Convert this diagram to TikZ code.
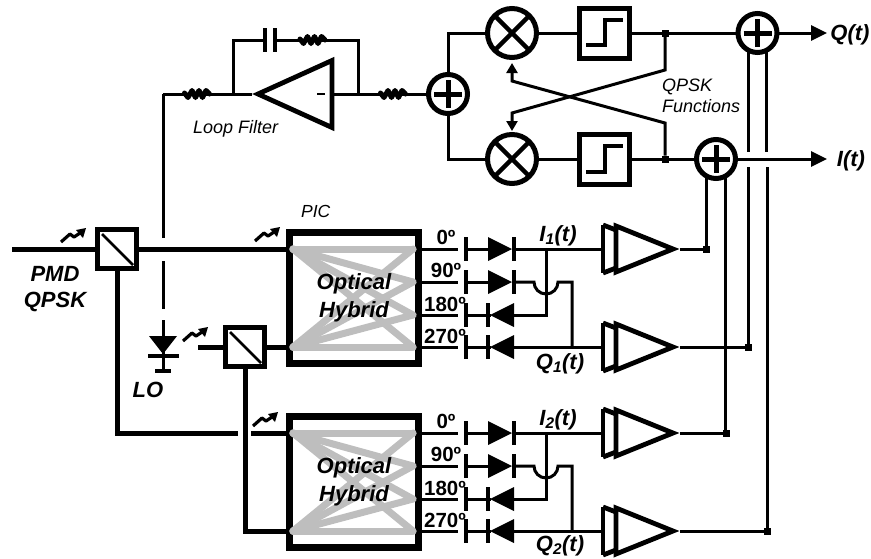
\documentclass[tikz,border=0pt]{standalone}
\usepackage{fontspec}
\setmainfont{Liberation Sans}
\usetikzlibrary{arrows.meta,calc}
\definecolor{hybgray}{RGB}{190,190,190}
\tikzset{
  x=1pt,y=-1pt,
  wire/.style={line width=3pt,line cap=butt},
  fiber/.style={line width=5pt},
  lab/.style={anchor=base,inner sep=0pt,font=\fontsize{22}{22}\selectfont\bfseries\itshape},
  portlab/.style={anchor=base,inner sep=0pt,font=\fontsize{20.5}{20.5}\selectfont\bfseries},
  note/.style={anchor=base west,inner sep=0pt,font=\fontsize{18}{18}\selectfont\itshape},
  splitbox/.style={draw,line width=5pt,fill=white,minimum size=39pt,inner sep=0pt,outer sep=0pt},
  hybbox/.style={draw,line width=7pt,minimum width=129pt,minimum height=131pt,inner sep=0pt,outer sep=0pt},
  compbox/.style={draw,line width=5pt,minimum size=50pt,inner sep=0pt,outer sep=0pt},
  addcirc/.style={draw,circle,line width=5pt,minimum size=39pt,inner sep=0pt,outer sep=0pt},
  mixcirc/.style={draw,circle,line width=5pt,minimum size=49pt,inner sep=0pt,outer sep=0pt},
  jdot/.style={fill=black,minimum size=7pt,inner sep=0pt,outer sep=0pt},
  bigtip/.style={-{Triangle[length=16pt,width=15pt]}},
  smalltip/.style={-{Triangle[length=10pt,width=11pt]}},
  amp/.style={line width=4.8pt,miter limit=20},
  tunearrow/.pic={
    \draw[line width=3.2pt,line join=round] (0,0) -- (9,-8) -- (13,-5) -- (19,-9);
    \fill (25,-14) -- (15,-12) -- (22,-4) -- cycle;
  },
  resist/.pic={
    \draw[line width=5pt,line join=round,line cap=round] (-12.5,-1) -- (-9,3.5) -- (-5,-3.5) -- (-1.5,3.5) -- (2,-3.5) -- (5.5,3.5) -- (9,-3.5) -- (12.5,0);
  },
  fdiode/.pic={
    \fill (-2,-12) rectangle (2,12);
    \draw[wire] (0,0) -- (25,0);
    \fill (22,-12) -- (46,0) -- (22,12) -- cycle;
    \fill (46,-12) rectangle (50,12);
  },
  rdiode/.pic={
    \fill (-2,-12) rectangle (2,12);
    \draw[wire] (0,0) -- (25,0);
    \fill (20,-12) rectangle (24,12);
    \fill (48,-12) -- (24,0) -- (48,12) -- cycle;
  }
}
\begin{document}
\begin{tikzpicture}
\useasboundingbox (0,0) rectangle (871,558);

% splitters and hybrids
\node[splitbox] (s1) at (117,249) {};
\node[splitbox] (s2) at (245,347) {};
\node[hybbox] (hy1) at (354,298) {};
\node[hybbox] (hy2) at (354,482) {};

% fibers
\coordinate (inp) at (12,249);
\draw[fiber] (inp) -- (s1.west);
\draw[fiber] (s1.east) -- (s1.east -| hy1.west);
\draw[fiber] (s2.east) -- (s2.east -| hy1.west);
\coordinate (s2l) at (198,347);
\draw[fiber] (s2l) -- (s2.west);
\coordinate (gl) at (238,433);
\coordinate (gr) at (251,433);
\coordinate (corn1) at (117,433);
\coordinate (corn2) at (245,531);
\draw[fiber] (s1.south) -- (corn1) -- (gl);
\draw[fiber] (gr) -- (gr -| hy2.west);
\draw[fiber] (s2.south) -- (corn2) -- (corn2 -| hy2.west);
\draw[line width=2.6pt] (102,234) -- (133,265);
\draw[line width=2.6pt] (230,332) -- (261,363);
\pic at (61,242) {tunearrow};
\pic at (255,241) {tunearrow};
\pic at (183,341) {tunearrow};
\pic at (253,426) {tunearrow};

% hybrids, detectors, amplifiers
\foreach \h/\dy/\n/\qy in {1/0/1/369,2/184/2/367}{
  \coordinate (a\h) at (293,249+\dy);
  \coordinate (b\h) at (293,347+\dy);
  \coordinate (r\h1) at (413,249+\dy);
  \coordinate (r\h2) at (413,282+\dy);
  \coordinate (r\h3) at (413,315+\dy);
  \coordinate (r\h4) at (413,347+\dy);
  \foreach \k in {1,2,3,4}{
    \draw[hybgray,line width=7pt,line cap=round] (a\h) -- (r\h\k);
    \draw[hybgray,line width=7pt,line cap=round] (b\h) -- (r\h\k);
  }
  \node[lab] (opt\h) at (354,289+\dy) {Optical};
  \node[lab] (hyb\h) at (354,317+\dy) {Hybrid};
  % port stubs
  \foreach \yy in {249,282,315,347}{
    \draw[wire] (422,\yy+\dy) -- (458,\yy+\dy);
  }
  \node[portlab] (l0\h) at (446,244+\dy) {0º};
  \node[portlab] (l90\h) at (446,277+\dy) {90º};
  \node[portlab] (l180\h) at (445,311+\dy) {180º};
  \node[portlab] (l270\h) at (445,343+\dy) {270º};
  \pic at (466,249+\dy) {fdiode};
  \pic at (466,282+\dy) {fdiode};
  \pic at (466,315+\dy) {rdiode};
  \pic at (466,347+\dy) {rdiode};
  % diode outputs
  \coordinate (j\h) at (546,249+\dy);
  \coordinate (ampi\h) at (603,249+\dy);
  \coordinate (ampq\h) at (603,347+\dy);
  \draw[wire] (514,249+\dy) -- (ampi\h);
  \draw[wire] (j\h) -- (546,315+\dy) -- (514,315+\dy);
  \draw[wire] (514,282+\dy) -- (534,282+\dy) arc[start angle=180,end angle=360,x radius=12pt,y radius=12pt] -- (572,282+\dy) -- (572,347+\dy);
  \draw[wire] (514,347+\dy) -- (ampq\h);
  \node[lab] (ilab\h) at (558,241+\dy) {I\textsubscript{\n}(t)};
  \node[lab] (qlab\h) at (560,\qy+\dy) {Q\textsubscript{\n}(t)};
  % amplifiers
  \foreach \yy in {249,347}{
    \draw[amp] (603,\yy+\dy-24) -- (616,\yy+\dy-19);
    \draw[amp] (603,\yy+\dy+24) -- (616,\yy+\dy+19);
    \draw[amp] (603,\yy+\dy-24) -- (603,\yy+\dy+24);
    \draw[amp] (616,\yy+\dy-23) -- (673,\yy+\dy) -- (616,\yy+\dy+23) -- cycle;
  }
}

% output junctions
\node[jdot] (d1) at (706,249) {};
\node[jdot] (d2) at (748,347) {};
\node[jdot] (d3) at (726,433) {};
\node[jdot] (d4) at (767,531) {};
\coordinate (o1) at (680,249);
\coordinate (o2) at (680,347);
\coordinate (o3) at (680,433);
\coordinate (o4) at (680,531);
\draw[wire] (o1) -- (d1);
\draw[wire] (o2) -- (d2);
\draw[wire] (o3) -- (d3);
\draw[wire] (o4) -- (d4);

% adders
\node[addcirc] (ai) at (716,159) {};
\node[addcirc] (aq) at (757.5,33) {};
\node[addcirc] (al) at (448,94) {};
\foreach \c in {ai,aq,al}{
  \draw[line width=5pt] ($(\c.center)+(-14,0)$) -- ($(\c.center)+(14,0)$);
  \draw[line width=5pt] ($(\c.center)+(0,-14)$) -- ($(\c.center)+(0,14)$);
}
\coordinate (gt) at (0,152);
\coordinate (gb) at (0,167);
\draw[wire] (ai.-120) -- (d1.north -| ai.-120);
\draw[wire] (ai.-60) -- (d3.north -| ai.-60);
\draw[wire] (aq.-118) -- (aq.-118 |- gt);
\draw[wire] (aq.-62) -- (aq.-62 |- gt);
\draw[wire] (d2.north |- gb) -- (d2.north);
\draw[wire] (d4.north |- gb) -- (d4.north);

% outputs
\node[lab] (qout) at (850,40) {Q(t)};
\node[lab] (iout) at (851,166) {I(t)};
\coordinate (qtip) at (827,33);
\coordinate (itip) at (827,159);
\draw[wire,bigtip] (aq.east) -- (qtip);
\draw[wire,bigtip] (ai.east) -- (itip);

% mixers and comparators
\node[mixcirc] (mq) at (512,33) {};
\node[mixcirc] (mi) at (512,159) {};
\foreach \c in {mq,mi}{
  \draw[line width=4.5pt] (\c.45) -- (\c.225);
  \draw[line width=4.5pt] (\c.135) -- (\c.315);
}
\node[compbox] (cq) at (604.5,33) {};
\node[compbox] (ci) at (604.5,159) {};
\draw[line width=4.5pt] (586,45) -- (605,45) -- (605,20) -- (623,20);
\draw[line width=4.5pt] (586,172) -- (605,172) -- (605,146) -- (623,146);
\node[jdot] (dq) at (665,33) {};
\node[jdot] (di) at (665,159) {};
\coordinate (lq) at (448,33);
\coordinate (li) at (448,159);
\draw[wire] (al.north) -- (lq) -- (mq.west);
\draw[wire] (al.south) -- (li) -- (mi.west);
\draw[wire] (mq.east) -- (cq.west);
\draw[wire] (mi.east) -- (ci.west);
\draw[wire] (cq.east) -- (aq.west);
\draw[wire] (ci.east) -- (ai.west);
\coordinate (xq1) at (665,70);
\coordinate (xq2) at (512,113);
\coordinate (xi1) at (665,123);
\coordinate (xi2) at (512,81);
\coordinate (tipq) at (512,131);
\coordinate (tipi) at (512,63);
\draw[wire,smalltip] (dq.south) -- (xq1) -- (xq2) -- (tipq);
\draw[wire,smalltip] (di.north) -- (xi1) -- (xi2) -- (tipi);

% loop filter
\coordinate (lo0) at (163,94);
\coordinate (r1c) at (197,94);
\coordinate (r2c) at (393,94);
\coordinate (r3c) at (312.5,40);
\coordinate (fbl) at (233,94);
\coordinate (fbr) at (358,94);
\coordinate (oin) at (252,94);
\coordinate (oout) at (333,94);
\coordinate (fbltop) at (233,40);
\coordinate (fbrtop) at (358,40);
\coordinate (capl) at (265,40);
\coordinate (capr) at (275,40);
\draw[wire] (lo0) -- (oin);
\draw[wire] (oout) -- (al.west);
\draw[wire] (fbl) -- (fbltop) -- (capl);
\draw[wire] (capr) -- (fbrtop) -- (fbr);
\pic at (r1c) {resist};
\pic at (r2c) {resist};
\pic at (r3c) {resist};
\draw[line width=4.5pt] (265,28) -- (265,52);
\draw[line width=4.5pt] (275,28) -- (275,52);
\draw[amp,fill=white] (258,94) -- (332,60.5) -- (332,127.5) -- cycle;
\draw[line width=2.5pt] (317,94) -- (325,94);

% LO path
\coordinate (v1) at (163,238);
\coordinate (v2) at (163,261);
\coordinate (v3) at (163,309);
\coordinate (v4) at (163,320);
\coordinate (v5) at (163,371);
\draw[wire] (lo0) -- (v1);
\draw[wire] (v2) -- (v3);
\draw[wire] (v4) -- (v5);
\fill (149,336) -- (177,336) -- (163,354) -- cycle;
\draw[line width=4.5pt] (148,356) -- (179,356);
\draw[line width=4.5pt] (155,371) -- (171,371);

% text
\node[lab] (pmd) at (55,281) {PMD};
\node[lab] (qpsk) at (55,307) {QPSK};
\node[lab] (lo) at (148,397) {LO};
\node[note,font=\fontsize{17.5}{17.5}\selectfont\itshape] (pic) at (301,217) {PIC};
\node[note] (lf) at (193,133) {Loop Filter};
\node[note] (qf1) at (662,91) {QPSK};
\node[note] (qf2) at (662,112) {Functions};
\end{tikzpicture}
\end{document}
